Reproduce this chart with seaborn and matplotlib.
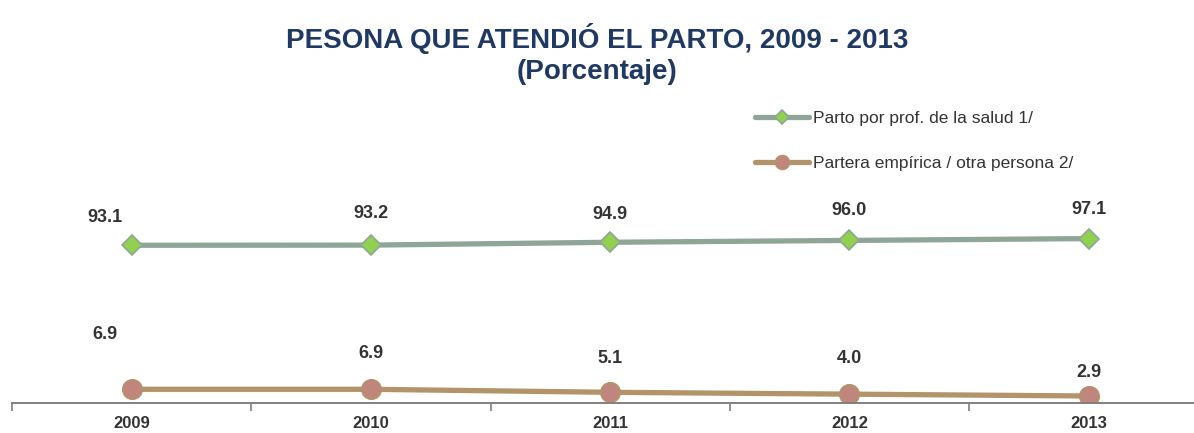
import numpy as np
import pandas as pd
import matplotlib
matplotlib.use("Agg")
import matplotlib.pyplot as plt
import seaborn as sns

# Data
years = ["2009", "2010", "2011", "2012", "2013"]
prof_salud = [93.1, 93.2, 94.9, 96.0, 97.1]
partera = [6.9, 6.9, 5.1, 4.0, 2.9]
series_names = ["Parto por prof. de la salud 1/", "Partera empírica / otra persona 2/"]
title = "PESONA QUE ATENDIÓ EL PARTO, 2009 - 2013\n(Porcentaje)"

# label offsets in pixels (dx, dy) relative to each point
prof_offsets = [(-27, 28), (0, 32), (0, 28), (0, 30), (0, 29)]
partera_offsets = [(-27, 55), (0, 36), (0, 34), (0, 36), (0, 23)]

sns.set_theme(style="white")
plt.rcParams['font.family'] = ['Liberation Sans Narrow', 'Liberation Sans', 'DejaVu Sans']

NAVY = '#1F3864'
TEXT = '#333333'

fig = plt.figure(figsize=(11.94, 4.33), dpi=100)
ax = fig.add_axes([12 / 1194, 30 / 433, 1 - 12 / 1194, 203 / 433])

df = pd.DataFrame({'x': np.arange(len(years)), 'prof': prof_salud, 'part': partera})

sns.lineplot(data=df, x='x', y='prof', ax=ax, color='#8FA598', linewidth=3.8,
             marker='D', markersize=10, markerfacecolor='#92D050',
             markeredgecolor='#8FA598', markeredgewidth=1.2, label=series_names[0])
sns.lineplot(data=df, x='x', y='part', ax=ax, color='#B39369', linewidth=3.8,
             marker='o', markersize=14, markerfacecolor='#C0857D',
             markeredgecolor='#B39369', markeredgewidth=1.2, label=series_names[1])

for vals, offs in ((prof_salud, prof_offsets), (partera, partera_offsets)):
    for i, (v, (dx, dy)) in enumerate(zip(vals, offs)):
        ax.annotate(f'{v:.1f}', xy=(i, v), xytext=(dx, dy), textcoords='offset pixels',
                    ha='center', va='center', fontsize=13, fontweight='bold', color=TEXT)

ax.set_xticks(range(len(years)))
ax.set_xticklabels(years, fontsize=12, fontweight='bold', color=TEXT)
ax.set_xticks(np.arange(-0.5, 4.6, 1), minor=True)
ax.set_xlim(-0.5, 4.44)
ax.set_ylim(-1.3, 120.2)
ax.tick_params(axis='x', which='major', length=0, pad=9)
ax.tick_params(axis='x', which='minor', length=6, width=1.2, color='#808080', direction='out')
ax.xaxis.set_ticks_position('bottom')
ax.set_yticks([])
ax.set_xlabel('')
ax.set_ylabel('')
for side in ['left', 'right', 'top']:
    ax.spines[side].set_visible(False)
ax.spines['bottom'].set_color('#808080')
ax.spines['bottom'].set_linewidth(1.4)

fig.text(0.5, 0.875, title, ha='center', va='center', fontsize=20,
         fontweight='bold', color=NAVY, linespacing=1.25)

leg = ax.legend(loc='upper left', bbox_to_anchor=(755 / 1194, 1 - 111 / 433),
                bbox_transform=fig.transFigure, frameon=False, fontsize=12.5,
                handlelength=3.1, handletextpad=0.25, labelspacing=1.7,
                labelcolor=TEXT, borderaxespad=0, borderpad=0)
leg.legend_handles[0].set_markersize(7)
leg.legend_handles[1].set_markersize(10)

plt.savefig('out.png', dpi=100)
